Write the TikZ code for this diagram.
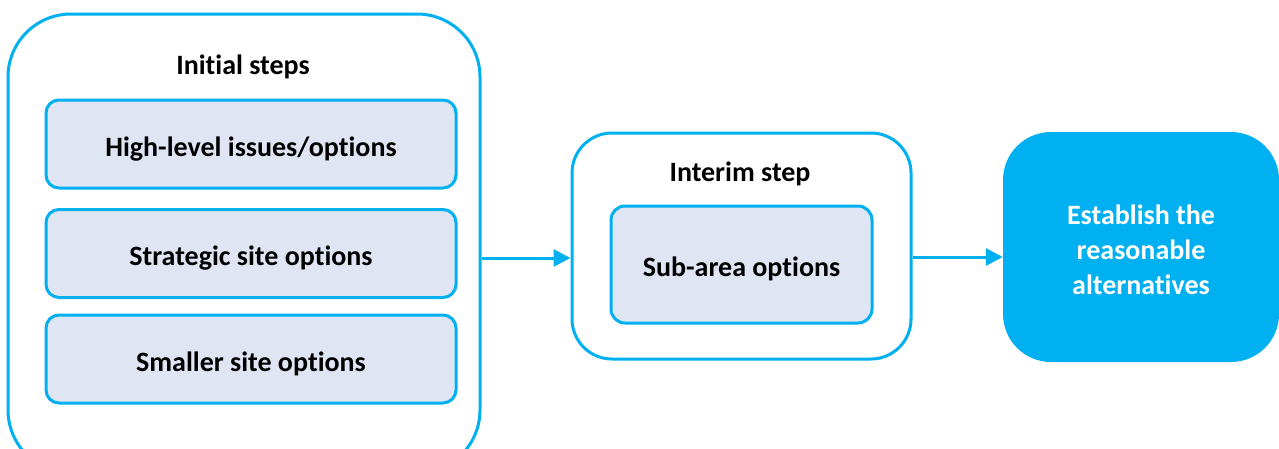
\documentclass[tikz,border=0pt]{standalone}
\usepackage{fontspec}
\setmainfont{Carlito}[Ligatures=NoCommon]
\usetikzlibrary{arrows.meta}
\definecolor{cyanline}{HTML}{00B0F0}
\definecolor{lavender}{HTML}{DFE5F3}
\begin{document}
\begin{tikzpicture}[x=1pt,y=-1pt,
  every node/.style={font=\fontsize{28}{35}\selectfont\bfseries, inner sep=0pt},
  groupbox/.style={draw=cyanline, line width=3pt, fill=white},
  itembox/.style={draw=cyanline, line width=3pt, fill=lavender, rounded corners=13pt,
    minimum width=410pt, minimum height=88pt, text height=24pt, text depth=0pt},
  goalbox/.style={fill=cyanline, text=white, rounded corners=48pt, align=center,
    minimum width=276pt, minimum height=230pt},
  flow/.style={draw=cyanline, line width=3pt, -{Triangle[length=17pt,width=17pt]}},
  heading/.style={text=black, anchor=base}
]
\useasboundingbox (0,0) rectangle (1279,448);
\clip (0,0) rectangle (1279,448);

% first stage: container with three option boxes
\node[groupbox, rounded corners=63pt, minimum width=472pt, minimum height=459pt] (initial) at (244,243.5) {};
\node[heading] (initialtitle) at (243,74.5) {Initial steps};
\node[itembox] (highlevel) at (251,144) {High-level issues/options};
\node[itembox] (strategic) at (251,253.5) {Strategic site options};
\node[itembox] (smaller) at (251,359) {Smaller site options};

% interim stage
\node[groupbox, rounded corners=40pt, minimum width=339pt, minimum height=226pt] (interim) at (741.5,246) {};
\node[heading] (interimtitle) at (740,181.5) {Interim step};
\node[itembox, rounded corners=14pt, minimum width=261pt, minimum height=117pt] (subarea) at (741.5,264.5) {Sub-area options};

% outcome
\node[goalbox] (goal) at (1141,247) {\rule{0pt}{25pt}Establish the\\reasonable\\alternatives};

% connectors
\path (initial.east) ++(0,14.5) coordinate (a1);
\path (interim.east) ++(0,11) coordinate (a2);
\draw[flow] (a1) -- (a1 -| interim.west);
\draw[flow] (a2) -- (a2 -| goal.west);
\end{tikzpicture}
\end{document}
